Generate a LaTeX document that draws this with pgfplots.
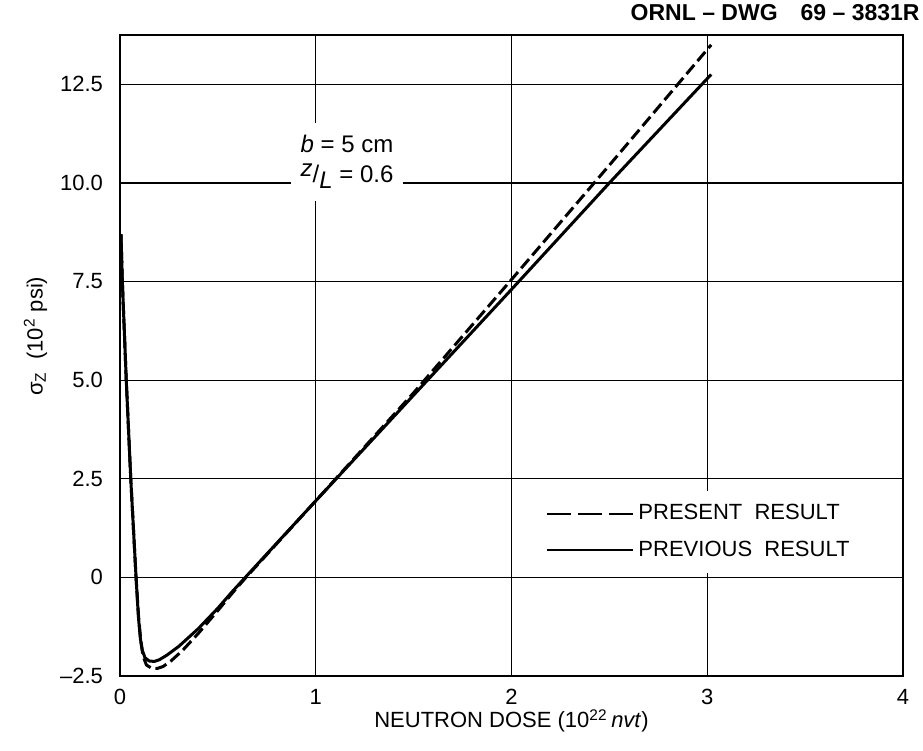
\documentclass[border=0pt]{standalone}
\usepackage{pgfplots}
\pgfplotsset{compat=1.18}
\usepackage{fontspec}
\setmainfont{Liberation Sans}
\begin{document}
\begin{tikzpicture}
\begin{axis}[
  scale only axis, width=391.5pt, height=320.5pt,
  xmin=0, xmax=4, ymin=-2.5, ymax=13.75,
  xtick={0,1,2,3,4},
  ytick={-2.5,0,2.5,5,7.5,10,12.5},
  yticklabels={--2.5,0,2.5,5.0,7.5,10.0,12.5},
  /pgf/number format/assume math mode=true,
  grid=major, major grid style={black, line width=0.6pt},
  major tick length=0pt,
  axis line style={line width=0.9pt},
  tick label style={font=\fontsize{11}{13}\selectfont},
  yticklabel style={xshift=-5pt},
  xticklabel style={yshift=-3pt},
  xlabel={NEUTRON DOSE (10\textsuperscript{22}\,\textit{nvt})},
  ylabel={σ\textsubscript{Z}\ \ (10\textsuperscript{2} psi)},
  label style={font=\fontsize{11}{13}\selectfont},
  xlabel style={at={(axis description cs:0.5,-0.07)}, anchor=center},
  ylabel style={at={(axis description cs:-0.108,0.53)}, anchor=center},
  legend style={at={(rel axis cs:0.536,0.29)}, anchor=north west, draw=none, fill=white,
    font=\fontsize{11}{13}\selectfont, row sep=5pt, inner xsep=3pt, inner ysep=5pt},
  legend cell align=left,
  legend image code/.code={\draw[#1] (0pt,0pt) -- (43pt,0pt);},
]
\addplot[black, line width=1.5pt, dash pattern=on 6pt off 2.5pt, forget plot] coordinates {
(0.005,8.7) (0.012,7.5) (0.032,5.0) (0.055,2.5) (0.082,0) (0.095,-1.0) (0.106,-1.6)
(0.118,-2.0) (0.135,-2.22) (0.16,-2.3) (0.19,-2.31) (0.22,-2.26) (0.26,-2.12)
(0.32,-1.85) (0.40,-1.42) (0.50,-0.84) (0.57,-0.42) (0.64,-0.02) (1.0,1.94)
(1.5,4.68) (2.0,7.55) (2.5,10.45) (3.02,13.5)
};
\addplot[black, line width=1.5pt, forget plot] coordinates {
(0.005,8.7) (0.012,7.5) (0.032,5.0) (0.055,2.5) (0.082,0) (0.094,-1.0) (0.104,-1.55)
(0.114,-1.85) (0.128,-2.04) (0.15,-2.12) (0.175,-2.13) (0.20,-2.09) (0.24,-1.97)
(0.30,-1.75) (0.40,-1.3) (0.50,-0.78) (0.57,-0.38) (0.64,0.0) (1.0,1.94)
(1.5,4.62) (2.0,7.3) (2.5,10.0) (3.02,12.75)
};
\addlegendimage{black, line width=1.2pt, dash pattern=on 12pt off 3.5pt}
\addlegendentry{PRESENT\ \ RESULT}
\addlegendimage{black, line width=1.2pt}
\addlegendentry{PREVIOUS\ \ RESULT}
\node[fill=white, align=center, inner xsep=5pt, inner ysep=6pt, font=\fontsize{12}{15}\selectfont]
  at (axis cs:1.16,10.53) {\textit{b} = 5 cm\\ \raisebox{0.5ex}{\textit{z}}/\raisebox{-0.5ex}{\textit{L}} = 0.6};
\end{axis}
\node[anchor=south east, inner sep=0pt, font=\bfseries\fontsize{11.5}{13}\selectfont]
  at ([shift={(8.5pt,7pt)}]current axis.north east) {ORNL -- DWG\quad 69 -- 3831R};
\path ([shift={(-60pt,-37pt)}]current axis.south west) rectangle ([shift={(10pt,17.5pt)}]current axis.north east);
\end{tikzpicture}
\end{document}
